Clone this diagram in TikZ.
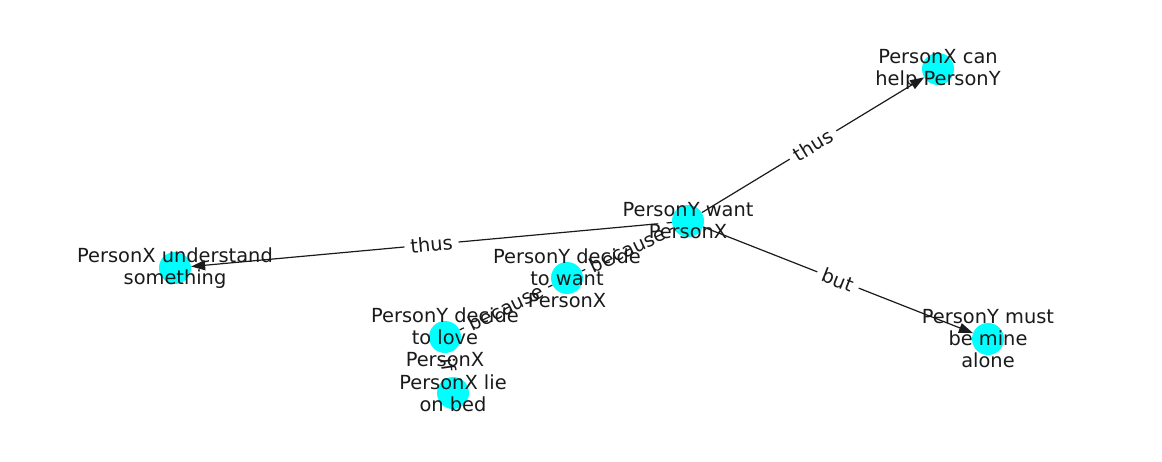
\documentclass[tikz,border=0pt]{standalone}
\usepackage{fontspec}
\setmainfont{DejaVu Sans}
\usetikzlibrary{arrows.meta}
\definecolor{nodecyan}{RGB}{0,255,255}
\definecolor{ink}{RGB}{26,26,26}
\pgfdeclarelayer{bg}
\pgfsetlayers{bg,main}
\begin{document}
\begin{tikzpicture}[x=1pt,y=-1pt,
  dot/.style={circle,fill=nodecyan,draw=none,minimum size=32pt,inner sep=0pt},
  lbl/.style={align=center,inner sep=0pt,font=\fontsize{19.4}{22}\selectfont,text=ink},
  elbl/.style={sloped,fill=white,inner xsep=6pt,inner ysep=3pt,font=\fontsize{19.4}{22}\selectfont,text=ink},
  edge/.style={draw=ink,line width=1.2pt},
  arr/.style={edge,-{Triangle[length=14pt,width=10pt]}}]
\useasboundingbox (0,0) rectangle (1162,462);
% nodes
\node[dot] (want) at (688,221) {};
\node[dot] (help) at (938,69) {};
\node[dot] (und) at (175,268) {};
\node[dot] (must) at (988,339) {};
\node[dot] (dwant) at (567,278) {};
\node[dot] (dlove) at (445,337) {};
\node[dot] (bed) at (453,393) {};
% edges
\begin{pgfonlayer}{bg}
\draw[arr] (want) -- node[elbl] (l1) {thus} (help);
\draw[arr] (want) -- node[elbl] (l2) {thus} (und);
\draw[arr] (want) -- node[elbl] (l3) {but} (must);
\draw[edge] (dwant) -- node[elbl] (l4) {because} (want);
\draw[edge] (dlove) -- node[elbl] (l5) {because} (dwant);
\draw[edge] (dlove) -- node[elbl] (l6) {if} (bed);
\end{pgfonlayer}
% labels
\node[lbl] (twant) at (688,221) {PersonY want\\PersonX};
\node[lbl] (thelp) at (938,69) {PersonX can\\help PersonY};
\node[lbl] (tund) at (175,268) {PersonX understand\\something};
\node[lbl] (tmust) at (988,339) {PersonY must\\be mine\\alone};
\node[lbl] (tdwant) at (567,278) {PersonY decide\\to want\\PersonX};
\node[lbl] (tdlove) at (445,337) {PersonY decide\\to love\\PersonX};
\node[lbl] (tbed) at (453,393) {PersonX lie\\on bed};
\end{tikzpicture}
\end{document}
